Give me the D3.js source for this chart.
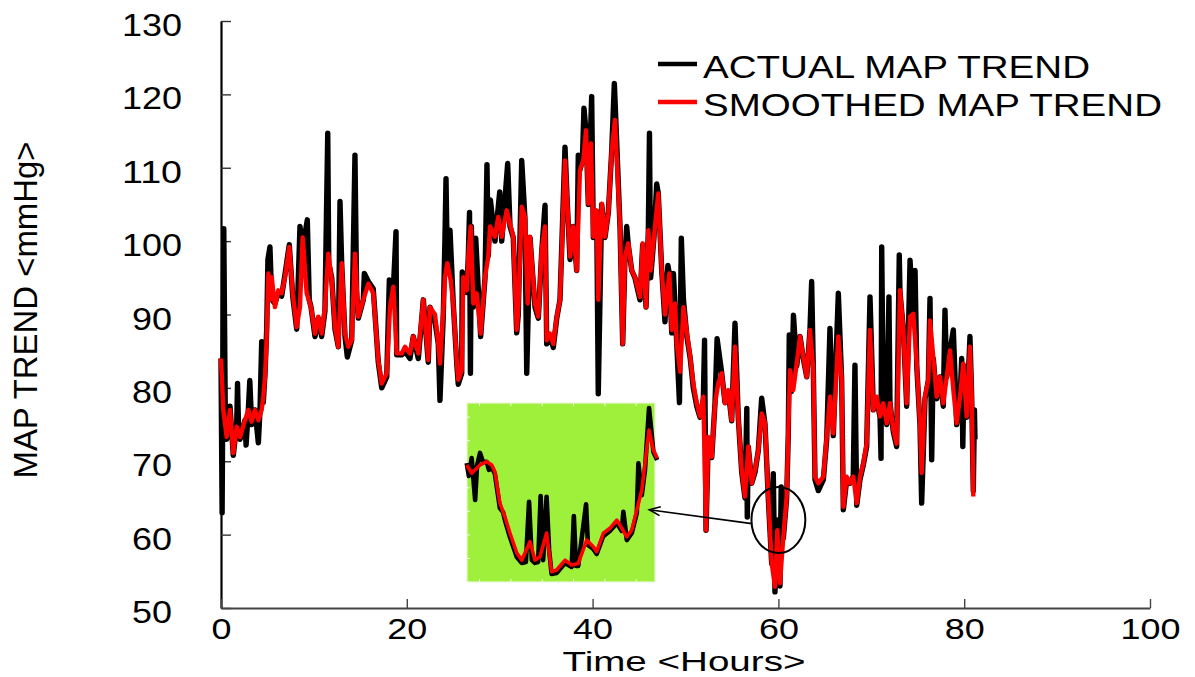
<!DOCTYPE html>
<html>
<head>
<meta charset="utf-8">
<script src="https://cdn.jsdelivr.net/npm/d3@7/dist/d3.min.js"></script>
<style>
  html, body { margin: 0; padding: 0; background: #fff; }
  svg { display: block; }
  text { font-family: "Liberation Sans", Arial, Helvetica, sans-serif; fill: #000; }
</style>
</head>
<body>
<svg id="chart" width="1195" height="677"></svg>
<script>
// ---------------- DATA ----------------
const xTicks = [0, 20, 40, 60, 80, 100];
const yTicks = [50, 60, 70, 80, 90, 100, 110, 120, 130];
const xTitle = "Time <Hours>";
const yTitle = "MAP TREND <mmHg>";
const seriesNames = ["ACTUAL MAP TREND", "SMOOTHED MAP TREND"];

// [hour, mmHg]
const actualMap = [[0,84],[0.12,63],[0.3,101.7],[0.45,78],[0.61,73],[0.97,77.5],[1.32,70.8],[1.69,75],[1.78,80.6],[1.9,74],[2.05,73],[2.58,75.6],[2.7,72.2],[2.94,77],[3.1,81],[3.3,75],[3.66,77],[4.02,72.5],[4.2,77],[4.38,86.3],[4.55,78],[4.74,82],[4.92,88],[5.05,97.5],[5.27,99.2],[5.46,92],[5.81,91.5],[6.17,93],[6.53,92.5],[6.89,95.5],[7.35,99.5],[7.72,92.5],[8.15,88],[8.5,102],[8.79,99],[9.29,102.9],[9.5,92],[9.69,91],[10.12,87],[10.47,89.5],[10.84,87],[11.19,90.5],[11.49,114.7],[11.6,97],[11.92,95],[12.27,88],[12.63,85.6],[12.81,105.4],[12.99,97],[13.35,87],[13.6,84.2],[14.07,86.5],[14.42,111.7],[14.6,93],[14.78,89.5],[15.32,92],[15.43,95.6],[15.86,94.5],[16.39,93.5],[16.93,83.5],[17.3,80],[17.84,81.5],[18.12,94.7],[18.55,93.5],[18.84,101.3],[18.91,84.5],[19.45,84.5],[19.81,85],[20.34,84],[20.7,87],[21.24,84],[21.78,92],[22.31,83.5],[22.5,91],[23.04,89],[23.39,86],[23.57,78.3],[23.93,90],[24.11,100.6],[24.22,108.5],[24.36,97],[24.65,101.5],[25,91.5],[25.37,83.5],[25.54,80.5],[25.91,82],[25.97,95.8],[26.45,93],[26.62,98],[26.75,103.9],[26.85,82],[26.95,102],[27.16,91],[27.42,100.4],[27.95,87],[28.42,95],[28.63,110.4],[28.77,98],[29,105.6],[29.49,100],[30,106.7],[30.22,100],[30.86,110.6],[31.11,102],[31.46,100.5],[31.83,87.5],[32,90],[32.37,111],[32.72,103],[32.91,82],[33.26,100.5],[33.8,91],[34.16,89.5],[34.52,98.5],[34.88,104.9],[35.06,86],[35.41,87],[35.77,85.5],[36.14,89.5],[36.49,92],[37.03,112.8],[37.28,105],[37.57,97.5],[37.92,102],[38.29,96],[38.46,111.7],[38.64,109.7],[38.9,111],[39.07,118.1],[39.29,115],[39.54,105],[39.9,119.7],[40.08,100.5],[40.44,104],[40.61,79.2],[40.98,105],[41.33,100.5],[41.69,103.8],[42.06,112.4],[42.34,121.5],[42.5,116.5],[42.66,111.3],[42.95,102],[43.24,86],[43.49,98],[43.67,102],[43.84,99.5],[44.21,96],[44.56,95],[45.1,92],[45.39,99.5],[45.75,91],[46,101.5],[46.12,114.7],[46.25,95],[46.61,100.6],[46.9,107.8],[47.07,106.5],[47.44,96],[47.79,89],[48.1,96.7],[48.26,95.6],[48.52,87.5],[48.7,95.6],[48.88,91],[49.06,86],[49.35,78],[49.55,100.4],[49.78,92],[50.15,87],[50.51,84],[50.84,80],[51.21,77.5],[51.56,76],[51.92,78.5],[52.05,86.5],[52.21,60.6],[52.45,73],[52.82,70.5],[53.18,78],[53.4,86.7],[53.9,82],[54.25,78],[54.61,79.5],[54.97,75.5],[55.33,88.8],[55.68,76],[56.05,68.5],[56.4,65],[56.6,77.2],[56.65,62.4],[56.76,72],[57.13,67],[57.48,68.5],[57.84,71.5],[58.2,78.6],[58.56,75],[58.91,65],[59.28,56],[59.45,68.3],[59.63,52.2],[59.88,62],[60.17,53],[60.3,66.5],[60.53,59.5],[60.89,65],[61.07,74],[61.17,87.2],[61.4,79.5],[61.62,89.9],[61.97,83],[62.33,87],[62.68,84],[63.05,81.5],[63.4,88],[63.58,94.5],[63.76,82.4],[63.94,67.5],[64.3,66],[64.84,67.5],[65.2,73],[65.55,88.1],[65.91,73.5],[66.45,92.9],[66.81,81],[66.99,63.4],[67.35,67.5],[67.71,67],[68.06,68],[68.24,83.1],[68.43,64],[68.78,67.5],[69.14,69.5],[69.5,72],[69.86,92.4],[70.22,77],[70.58,78.5],[70.94,76],[71.05,70.4],[71.12,99.2],[71.29,78],[71.66,75],[71.9,92.4],[72.01,78],[72.37,74],[72.73,72],[73.01,98.1],[73.09,93],[73.45,88],[73.81,77.5],[74.17,97.4],[74.52,89],[74.71,96],[74.89,83],[75.24,75],[75.42,64.3],[75.78,78.5],[76.14,81],[76.32,92.2],[76.5,70.2],[76.67,84],[77.04,78.5],[77.4,81.5],[77.75,77.5],[77.93,90.6],[78.12,81.5],[78.47,85],[78.83,87.9],[79.19,75],[79.55,78.5],[79.73,84],[79.85,72],[80,83],[80.27,76],[80.62,87],[80.81,78.5],[80.98,66],[81.1,77],[81.16,73]];

const smoothedMap = [[0,84],[0.25,77],[0.61,73.3],[0.97,77],[1.32,71.1],[1.69,74.7],[2.05,73.3],[2.58,75.6],[2.94,77],[3.3,75.4],[3.66,77],[4.02,75.6],[4.38,77],[4.55,78.8],[4.74,81.5],[4.92,87],[5.1,95.6],[5.27,92],[5.46,95.1],[5.81,91],[6.17,93.3],[6.53,92.9],[6.89,95.1],[7.35,99.2],[7.72,92.9],[8.15,88.3],[8.5,91],[8.79,100.5],[9.22,92.9],[9.69,91],[10.12,87.4],[10.47,89.7],[10.84,87.4],[11.19,91],[11.55,98.3],[11.92,94.7],[12.27,88.3],[12.63,85.6],[12.99,97],[13.35,87.4],[13.7,85.6],[14.07,86.5],[14.42,98.3],[14.78,89.7],[15.32,92],[15.86,94.2],[16.39,92.9],[16.93,83.8],[17.3,80.6],[17.84,82],[18.19,91],[18.55,93.8],[18.91,84.7],[19.45,84.7],[19.81,85.6],[20.34,84.7],[20.7,87],[21.24,84.7],[21.78,92],[22.31,83.8],[22.5,91],[23.04,90],[23.39,86],[23.57,83.3],[23.93,90.6],[24.11,95.1],[24.36,97],[24.72,94.7],[25,91.5],[25.37,83.8],[25.54,81.1],[25.91,82.4],[26.08,95.1],[26.45,93.3],[26.62,97.9],[26.88,102],[27.16,91.5],[27.52,92.9],[27.95,87.4],[28.42,95.1],[28.77,97.9],[28.96,102],[29.49,100.6],[29.85,103.3],[30.22,100.6],[30.75,104.2],[31.11,102.4],[31.46,100.6],[31.83,87.9],[32,90.6],[32.37,104.7],[32.72,103.3],[33.01,91.5],[33.26,100.6],[33.8,91.5],[34.16,89.7],[34.52,98.8],[34.88,102],[35.06,86.5],[35.41,87.4],[35.77,86],[36.14,89.7],[36.49,92],[37.03,111],[37.28,105.1],[37.57,97.9],[37.92,102],[38.29,96],[38.64,109.7],[39,111],[39.29,115.1],[39.54,105.1],[39.83,113.3],[40.08,100.6],[40.44,104.2],[40.61,92],[40.98,105.1],[41.33,100.6],[41.69,103.8],[42.06,112.4],[42.41,116.5],[42.66,109.7],[42.95,102],[43.24,86],[43.49,97.9],[43.84,99.7],[44.21,96],[44.56,95.1],[45.1,92.4],[45.39,99.7],[45.75,91],[46,101.5],[46.25,96],[46.61,100.6],[47.07,106.5],[47.44,96],[47.79,90],[48.26,95.6],[48.52,87.9],[48.88,91.5],[49.06,86],[49.42,82.2],[49.78,91],[50.15,87.5],[50.51,84.2],[50.84,80.6],[51.21,77.9],[51.56,76.1],[51.92,78.8],[52.21,60.6],[52.45,73.3],[52.82,70.6],[53.18,77.9],[53.53,80.6],[53.9,82],[54.25,77.9],[54.61,79.7],[54.97,75.6],[55.33,85.6],[55.68,76.1],[56.05,68.8],[56.4,65.2],[56.76,72],[57.13,67],[57.48,68.8],[57.84,71.5],[58.2,76.5],[58.56,75.2],[58.91,65.2],[59.28,56.1],[59.63,52.9],[59.88,60.6],[60.17,53.4],[60.53,59.7],[60.89,65.2],[61.07,74.3],[61.25,82.4],[61.6,79.7],[61.97,83.3],[62.33,87],[62.68,84.2],[63.05,81.5],[63.4,87.9],[63.76,82.4],[63.94,67.9],[64.3,67],[64.84,67.9],[65.2,73.3],[65.55,78.8],[65.91,73.8],[66.45,87],[66.81,81.1],[66.99,63.8],[67.35,67.9],[67.71,67],[68.06,67.9],[68.43,64.3],[68.78,67.9],[69.14,69.7],[69.5,72.4],[69.86,87.9],[70.22,77],[70.58,78.8],[70.94,76.1],[71.29,77.9],[71.66,75.2],[72.01,77.9],[72.37,74.3],[72.73,72.4],[73.09,93.3],[73.45,87.9],[73.81,77.9],[74.17,89.7],[74.52,90.1],[74.89,83.3],[75.24,75.2],[75.42,68.4],[75.78,78.8],[76.14,81.1],[76.32,89.2],[76.67,84.2],[77.04,78.8],[77.4,81.5],[77.75,77.9],[78.12,81.5],[78.47,85.1],[78.83,79.7],[79.19,75.2],[79.55,78.8],[79.9,83.3],[80.27,76.1],[80.62,85.6],[80.81,78.8],[80.98,65.2]];

// Inset (zoomed view of the circled region), in the inset's own units
const insetXTicks = [0, 10, 20, 30, 40, 50];
const insetYTicks = [0, 10, 20, 30, 40, 50, 60, 70];
const insetActual = [[-4.1,50.5],[-3.4,45],[-2.5,52.6],[-1.4,34.8],[-0.8,49.3],[0.15,54.8],[1.1,51],[2.3,51],[3,47.6],[3.9,48.8],[4.9,45.9],[6.5,31.4],[7.5,29.7],[8.1,26.3],[9.7,19.1],[11.9,10.6],[13.5,8.1],[14.8,8.5],[15.8,34.1],[16.7,9.3],[17.7,8.1],[18.7,8.5],[19.5,36.5],[20.3,9.3],[21.4,36.2],[22.2,13.6],[23,3.4],[24.6,3.8],[27.3,8.1],[29.4,6.4],[30.1,28],[30.8,6.8],[31.5,6.8],[34,33],[34.6,15.7],[36.3,14],[37.4,11.9],[39.5,19.5],[41.6,21.7],[43.8,25],[45.4,21.7],[45.9,29.8],[47,17.8],[48.6,20.8],[50.2,29.3],[50.7,50.4],[51.8,36.9],[52.8,47.6],[54.1,73.9],[55.5,55.2],[56.7,51.8]];
const insetSmoothed = [[-4.1,49.7],[-2.5,46.2],[0.15,49.7],[2.3,51.1],[3.9,49.7],[4.9,46.8],[6.5,33.5],[8.1,27.7],[9.7,20.8],[11.9,12.3],[13.5,9.3],[16.1,17.1],[17.7,9.3],[19.3,10.7],[21.4,20.8],[23,4.4],[24.6,5.1],[27.3,9.3],[29.4,7.2],[31.5,7.9],[34.2,17.8],[36.3,15],[37.4,12.9],[39.5,20.7],[41.6,22.8],[43.8,26.3],[45.4,22.8],[47,19.2],[48.6,22.1],[50.2,30.6],[51.8,39.1],[54.1,64.5],[55.5,56],[56.7,52.5]];

// Annotation: ellipse around the dip (hours, mmHg) and arrow to the inset
const circleCenter = [60.0, 62.0];
const circleRadii = [2.9, 4.5];       // in hours, mmHg
const arrowFrom = [57.13, 61.5];      // hours, mmHg
const arrowTo = [46.1, 63.4];         // hours, mmHg

// ---------------- DRAWING ----------------
const svg = d3.select("#chart");
const x = d3.scaleLinear().domain([0, 100]).range([221, 1150]);
const y = d3.scaleLinear().domain([50, 130]).range([608, 21]);

// Y axis (ticks inside)
const yAxis = d3.axisLeft(y).tickValues(yTicks).tickSizeInner(-10).tickSizeOuter(0).tickPadding(0);
const gy = svg.append("g").attr("transform", `translate(${x(0)},0)`).call(yAxis);
gy.select(".domain").attr("stroke", "#000").attr("stroke-width", 2.2);
gy.selectAll(".tick line").attr("stroke", "#333").attr("stroke-width", 1.4);
gy.selectAll(".tick text")
  .attr("x", -69).attr("dy", "0.47em")
  .attr("text-anchor", "middle")
  .style("font-size", "31px")
  .attr("textLength", d => String(d).length * 20)
  .attr("lengthAdjust", "spacingAndGlyphs");

// X axis
const xAxis = d3.axisBottom(x).tickValues(xTicks).tickSizeInner(-9).tickSizeOuter(0).tickPadding(0);
const gx = svg.append("g").attr("transform", `translate(0,${y(50)})`).call(xAxis);
gx.select(".domain").attr("stroke", "#444").attr("stroke-width", 2);
gx.selectAll(".tick line").attr("stroke", "#444").attr("stroke-width", 1.4);
gx.selectAll(".tick text")
  .attr("y", 31).attr("dy", 0)
  .attr("text-anchor", "middle")
  .style("font-size", "30px")
  .attr("textLength", d => String(d).length * 20)
  .attr("lengthAdjust", "spacingAndGlyphs");

// Axis titles
svg.append("text")
  .attr("x", 684).attr("y", 670.5)
  .attr("text-anchor", "middle")
  .style("font-size", "27px")
  .attr("textLength", 243).attr("lengthAdjust", "spacingAndGlyphs")
  .text(xTitle);

svg.append("text")
  .attr("transform", "translate(37,310) rotate(-90)")
  .attr("text-anchor", "middle")
  .style("font-size", "33px")
  .attr("textLength", 337).attr("lengthAdjust", "spacingAndGlyphs")
  .text(yTitle);

// Data lines
const line = d3.line().x(d => x(d[0])).y(d => y(d[1]));
svg.append("path").datum(actualMap)
  .attr("d", line).attr("fill", "none")
  .attr("stroke", "#000").attr("stroke-width", 5.4)
  .attr("stroke-linejoin", "round");
svg.append("path").datum(smoothedMap)
  .attr("d", line).attr("fill", "none")
  .attr("stroke", "#ff0000").attr("stroke-width", 4.4)
  .attr("stroke-linejoin", "round");

// Inset
const ix = d3.scaleLinear().domain([-4, 56]).range([467, 655]);
const iy = d3.scaleLinear().domain([0, 76]).range([582, 403]);
const inset = svg.append("g");
inset.append("rect")
  .attr("x", ix(-4)).attr("y", iy(76))
  .attr("width", ix(56) - ix(-4)).attr("height", iy(0) - iy(76))
  .attr("fill", "#9ff03a").attr("stroke", "#eaf7d8").attr("stroke-width", 1.2);
inset.selectAll(".iyt").data(insetYTicks).enter().append("line")
  .attr("x1", ix(-4)).attr("x2", ix(-4) + 3)
  .attr("y1", d => iy(d)).attr("y2", d => iy(d))
  .attr("stroke", "#f4fbe8").attr("stroke-width", 1);
inset.selectAll(".ixb").data(insetXTicks).enter().append("line")
  .attr("x1", d => ix(d)).attr("x2", d => ix(d))
  .attr("y1", iy(0)).attr("y2", iy(0) - 3)
  .attr("stroke", "#f4fbe8").attr("stroke-width", 1);
inset.selectAll(".ixt").data(insetXTicks).enter().append("line")
  .attr("x1", d => ix(d)).attr("x2", d => ix(d))
  .attr("y1", iy(76)).attr("y2", iy(76) + 3)
  .attr("stroke", "#f4fbe8").attr("stroke-width", 1);
const iline = d3.line().x(d => ix(d[0])).y(d => iy(d[1]));
inset.append("path").datum(insetActual)
  .attr("d", iline).attr("fill", "none")
  .attr("stroke", "#000").attr("stroke-width", 4.6).attr("stroke-linejoin", "round");
inset.append("path").datum(insetSmoothed)
  .attr("d", iline).attr("fill", "none")
  .attr("stroke", "#ff0000").attr("stroke-width", 3.6).attr("stroke-linejoin", "round");

// Ellipse + arrow
svg.append("ellipse")
  .attr("cx", x(circleCenter[0])).attr("cy", y(circleCenter[1]))
  .attr("rx", x(circleRadii[0]) - x(0)).attr("ry", y(50) - y(50 + circleRadii[1]))
  .attr("fill", "none").attr("stroke", "#000").attr("stroke-width", 2);

svg.append("defs").append("marker")
  .attr("id", "ahead").attr("viewBox", "-12 -6 14 12")
  .attr("refX", 0).attr("refY", 0)
  .attr("markerWidth", 14).attr("markerHeight", 12)
  .attr("markerUnits", "userSpaceOnUse")
  .attr("orient", "auto")
  .append("path").attr("d", "M-11,-4.5 L0,0 L-11,4.5")
  .attr("fill", "none").attr("stroke", "#000").attr("stroke-width", 1.6);
svg.append("line")
  .attr("x1", x(arrowFrom[0])).attr("y1", y(arrowFrom[1]))
  .attr("x2", x(arrowTo[0])).attr("y2", y(arrowTo[1]))
  .attr("stroke", "#000").attr("stroke-width", 1.6)
  .attr("marker-end", "url(#ahead)");

// Legend
const legendColors = ["#000", "#ff0000"];
const legendY = [64, 102];
const legendBase = [78, 116];
const legendLen = [387, 459];
const lg = svg.append("g");
seriesNames.forEach((name, i) => {
  lg.append("line")
    .attr("x1", 658).attr("x2", 697)
    .attr("y1", legendY[i]).attr("y2", legendY[i])
    .attr("stroke", legendColors[i]).attr("stroke-width", 4.5);
  lg.append("text")
    .attr("x", 703).attr("y", legendBase[i])
    .style("font-size", "32px")
    .attr("textLength", legendLen[i]).attr("lengthAdjust", "spacingAndGlyphs")
    .text(name);
});
</script>
</body>
</html>
